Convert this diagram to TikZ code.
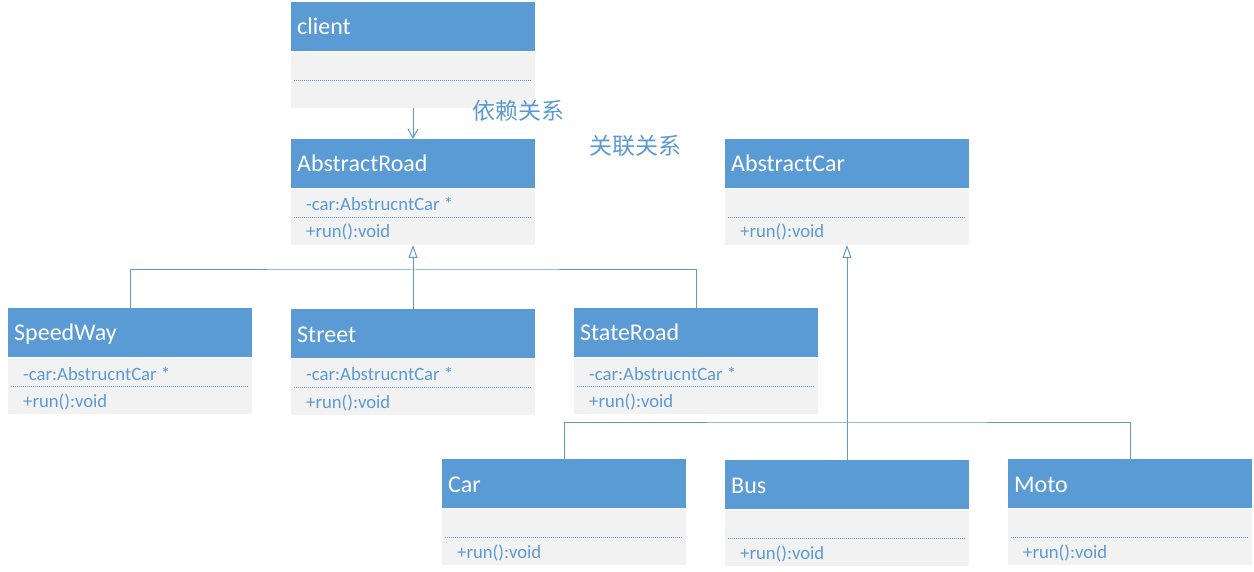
\documentclass[tikz,border=0pt]{standalone}
\usepackage{fontspec}
\setmainfont{Carlito}
\newfontfamily\cjk{Noto Sans CJK SC}
\usetikzlibrary{arrows.meta}
\definecolor{hdr}{HTML}{5B9BD5}
\definecolor{bdy}{HTML}{F2F2F2}
\definecolor{ln}{HTML}{5B9BD5}
\tikzset{
  hdrbox/.style={fill=hdr, minimum width=244pt, minimum height=49pt, inner sep=0pt, outer sep=0pt},
  bodybox/.style={fill=bdy, minimum width=244pt, minimum height=56pt, inner sep=0pt, outer sep=0pt},
  hdrtext/.style={text=white, font=\fontsize{24}{27}\selectfont, inner sep=0pt},
  attrtext/.style={text=hdr, font=\fontsize{18.7}{21}\selectfont, inner sep=0pt},
  dotline/.style={draw=hdr, line width=0.8pt, dash pattern=on 1pt off 1pt},
  conn/.style={draw=ln, line width=1pt},
  inh/.style={conn, -{Triangle[open, length=13pt, width=9pt, fill=white]}},
  dep/.style={conn, -{Straight Barb[length=9pt, width=10pt]}},
  cjklabel/.style={text=hdr, font=\cjk\fontsize{23}{26}\selectfont, inner sep=0pt}
}
\newcommand{\umlbox}[6]{%
  \node[hdrbox, anchor=north west] (#1) at (#2,#3) {};
  \node[bodybox, anchor=north west] (#1-b) at (#2,#3+50) {};
  \node[hdrtext, anchor=base west] (#1-t) at (#2+6,#3+33) {#4};
  \if\relax\detokenize{#5}\relax\else
    \node[attrtext, anchor=base west] (#1-a) at (#2+15,#3+72) {#5};
  \fi
  \draw[dotline] (#2+3,#3+78) -- (#2+240,#3+78);
  \if\relax\detokenize{#6}\relax\else
    \node[attrtext, anchor=base west] (#1-m) at (#2+15,#3+99) {#6};
  \fi
}
\begin{document}
\begin{tikzpicture}[x=1pt, y=-1pt]
\useasboundingbox[fill=white] (0,0) rectangle (1254,572);
\umlbox{client}{291}{2}{client}{}{}
\umlbox{aroad}{291}{139}{AbstractRoad}{-car:AbstrucntCar *}{+run():void}
\umlbox{acar}{725}{139}{AbstractCar}{}{+run():void}
\umlbox{speedway}{8}{308}{SpeedWay}{-car:AbstrucntCar *}{+run():void}
\umlbox{street}{291}{309}{Street}{-car:AbstrucntCar *}{+run():void}
\umlbox{stateroad}{574}{308}{StateRoad}{-car:AbstrucntCar *}{+run():void}
\umlbox{car}{442}{459}{Car}{}{+run():void}
\umlbox{bus}{725}{460}{Bus}{}{+run():void}
\umlbox{moto}{1008}{459}{Moto}{}{+run():void}

\draw[dep] (client-b.south) -- (aroad.north);
\coordinate (jr) at (413,270);
\draw[conn] (speedway.north) |- (jr) -| (stateroad.north);
\draw[inh] (street.north) -- (aroad-b.south);
\coordinate (jc) at (847,422);
\draw[conn] (car.north) |- (jc) -| (moto.north);
\draw[inh] (bus.north) -- (acar-b.south);

\node[cjklabel] (dep-l) at (518,111) {依赖关系};
\node[cjklabel] (asc-l) at (635,146) {关联关系};
\end{tikzpicture}
\end{document}
